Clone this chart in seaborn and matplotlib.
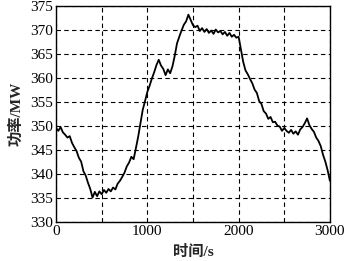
import matplotlib
matplotlib.use("Agg")
import matplotlib.pyplot as plt
import seaborn as sns
import pandas as pd

time_s = list(range(0, 3001, 25))
power_mw = [
    349.6, 349.0, 349.8, 348.7, 348.2, 347.6, 347.9, 346.5, 345.6, 344.8,
    343.4, 342.6, 340.6, 339.7, 338.2, 336.9, 335.1, 336.3, 335.4, 336.4,
    335.8, 336.7, 336.1, 336.9, 336.4, 337.2, 336.8, 338.0, 338.6, 339.4,
    340.3, 341.6, 342.4, 343.6, 343.1, 345.4, 347.8, 350.6, 353.4, 355.2,
    357.1, 358.4, 359.9, 361.2, 362.7, 363.8, 362.6, 361.9, 360.6, 361.8,
    361.0, 362.4, 364.6, 367.2, 368.6, 369.9, 371.1, 371.8, 373.2, 372.1,
    371.0, 370.6, 370.9, 369.8, 370.4, 369.6, 370.2, 369.4, 369.9, 369.2,
    370.1, 369.5, 369.8, 369.1, 369.6, 368.8, 369.4, 368.6, 369.0, 368.4,
    368.6, 366.0, 363.4, 361.6, 360.8, 359.8, 358.9, 357.6, 356.9, 355.2,
    354.6, 353.1, 352.6, 351.5, 351.9, 350.8, 350.9, 350.1, 349.9, 349.0,
    349.6, 349.0, 348.6, 349.2, 348.4, 348.9, 348.2, 349.3, 349.8, 350.6,
    351.6, 350.2, 349.4, 348.8, 347.6, 346.9, 345.8, 344.0, 342.6, 340.8,
    338.6,
]
x_ticks = [0, 1000, 2000, 3000]
y_ticks = [330, 335, 340, 345, 350, 355, 360, 365, 370, 375]
x_label = "时间/s"
y_label = "功率/MW"

sns.set_style("ticks")
plt.rcParams["font.family"] = ["Liberation Serif", "Noto Sans CJK SC", "DejaVu Sans"]

df = pd.DataFrame({"t": time_s, "p": power_mw})

fig = plt.figure(figsize=(3.48, 2.61), dpi=100)
ax = fig.add_axes([0.161, 0.149, 0.787, 0.828])
sns.lineplot(data=df, x="t", y="p", ax=ax, color="black", linewidth=1.3)

ax.set_xlim(0, 3000)
ax.set_ylim(330, 375)
ax.set_xticks(range(0, 3001, 500))
ax.set_xticklabels([str(v) if v in x_ticks else "" for v in range(0, 3001, 500)])
ax.set_yticks(y_ticks)
ax.set_yticklabels([str(v) for v in y_ticks])
ax.grid(True, color="black", linestyle=(0, (4, 3)), linewidth=0.8)
ax.tick_params(length=0, labelsize=11, pad=2, colors="black")
for s in ax.spines.values():
    s.set_color("black")
    s.set_linewidth(1.0)

ax.set_xlabel(x_label, fontsize=11, labelpad=5, fontweight="bold")
ax.set_ylabel(y_label, fontsize=11, labelpad=5, fontweight="bold")

fig.savefig("out.png", dpi=100)
